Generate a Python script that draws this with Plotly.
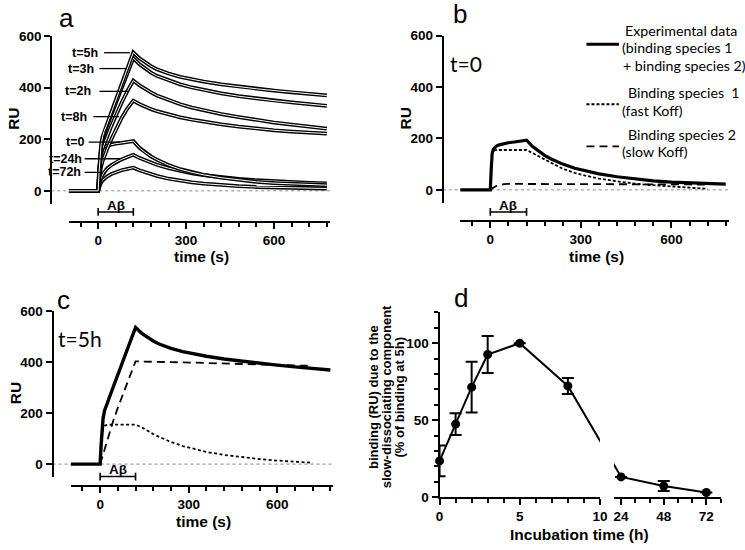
import plotly.graph_objects as go

W, H = 745, 550
def X(px): return px / W
def Y(py): return 1 - py / H

# ---------------- data ----------------
# panel a / b / c : SPR sensorgrams (time in s, response in RU)
t_full = [-100, 0, 3, 6, 10, 15, 20, 30, 45, 60, 80, 100, 120, 140, 160, 180, 200,
          240, 280, 320, 360, 420, 480, 540, 600, 660, 720, 780]
ru_5h = [0, 0, 70, 130, 180, 210, 230, 258, 305, 350, 410, 470, 537, 515, 498, 484, 472,
         455, 442, 432, 424, 413, 404, 396, 389, 382, 376, 370]
ru_3h = [0, 0, 65, 120, 170, 200, 220, 250, 295, 338, 396, 455, 515, 492, 474, 459, 446,
         428, 413, 401, 391, 378, 367, 358, 350, 343, 336, 330]
ru_2h = [0, 0, 60, 105, 140, 163, 180, 208, 252, 292, 342, 388, 428, 410, 395, 382, 370,
         352, 336, 323, 312, 298, 286, 275, 265, 257, 249, 241]
ru_8h = [0, 0, 40, 70, 95, 115, 132, 160, 200, 238, 283, 320, 350, 337, 326, 317, 309,
         296, 285, 276, 268, 258, 249, 241, 235, 230, 226, 222]
ru_0h = [0, 0, 80, 140, 158, 165, 170, 175, 180, 183, 186, 189, 193, 168, 149, 134, 121,
         100, 84, 72, 62, 51, 42, 35, 30, 27, 24, 22]
ru_24h = [0, 0, 20, 35, 50, 62, 72, 86, 100, 111, 122, 131, 140, 128, 118, 109, 101,
          88, 77, 68, 61, 53, 46, 41, 37, 34, 31, 29]
ru_72h = [0, 0, 12, 22, 32, 40, 46, 55, 65, 72, 80, 85, 90, 80, 72, 64, 58,
          47, 39, 33, 28, 22, 18, 15, 13, 11, 10, 9]
curve_labels = ["t=5h", "t=3h", "t=2h", "t=8h", "t=0", "t=24h", "t=72h"]

# fitted components (binding species 1 = fast Koff, species 2 = slow Koff)
t_comp = [0, 3, 6, 10, 15, 20, 30, 45, 60, 80, 100, 120, 140, 160, 180, 200,
          240, 280, 320, 360, 420, 480, 540, 600, 660, 720]
b_fast = [0, 80, 140, 152, 155, 155, 155, 155, 155, 155, 155, 155, 143, 130, 118, 106,
          82, 66, 54, 44, 33, 24, 18, 13, 8, 4]
b_slow = [0, 3, 6, 9, 12, 15, 19, 22, 23, 23, 23, 23, 23, 23, 23, 23,
          23, 23, 22, 22, 22, 22, 21, 21, 21, 20]
c_fast = [0, 60, 110, 140, 150, 153, 155, 155, 155, 155, 155, 155, 145, 131, 118, 107,
          87, 71, 58, 48, 36, 27, 20, 14, 9, 5]
c_slow = [0, 12, 24, 40, 60, 80, 118, 172, 222, 285, 345, 404, 403, 403, 402, 402,
          401, 400, 399, 398, 396, 394, 392, 390, 388, 386]
inj_start, inj_end = 0, 120   # A-beta injection (s)

# panel d : slow-dissociating component vs incubation time
inc_h = [0, 1, 2, 3, 5, 8, 24, 48, 72]
slow_pct = [23.6, 47.5, 71.5, 92.7, 100, 72.3, 13.2, 7.3, 3.1]
slow_err = [10, 7, 16.5, 12, None, 5.2, None, 3.2, None]

# ---------------- geometry ----------------
PANELS = {
    1: dict(x0=65.9, x1=331.1, ytop=30.0, ybot=202.25, yax=48.0, xax=221.0, br=210.7),
    2: dict(x0=463.6, x1=736.6, ytop=29.3, ybot=201.2, yax=446.0, xax=220.0, br=210.7),
    3: dict(x0=67.7, x1=334.7, ytop=313.0, ybot=483.0, yax=49.3, xax=492.7, br=482.7),
}
D1 = (442.7, 605.7); R1 = (0, 10)
D2 = (620.0, 728.3); R2 = (20, 80)
DY = (504.0, 314.0); RY = (0, 120)

BOLD = dict(family="Liberation Sans, Arial, sans-serif", color="black", weight="bold")
AX = dict(showgrid=False, zeroline=False, showline=True, linecolor="black", linewidth=2,
          ticks="outside", tickcolor="black", tickwidth=2, ticklen=6,
          tickfont=dict(size=13.5, **BOLD))

fig = go.Figure()
layout = dict(width=W, height=H, autosize=False, margin=dict(l=0, r=0, t=0, b=0),
              paper_bgcolor="white", plot_bgcolor="white", showlegend=False)
shapes, annos = [], []

for i, P in PANELS.items():
    s = "" if i == 1 else str(i)
    layout["xaxis" + s] = dict(domain=[X(P["x0"]), X(P["x1"])], range=[-100, 790],
                               anchor="free", position=Y(P["xax"]), dtick=300, tick0=0,
                               minor=dict(dtick=60, tick0=0, ticks="outside", ticklen=4,
                                          tickwidth=1.5, tickcolor="black"), **AX)
    layout["yaxis" + s] = dict(domain=[Y(P["ybot"]), Y(P["ytop"])], range=[-50, 600],
                               anchor="free", position=X(P["yax"]),
                               tickvals=[0, 200, 400, 600], **AX)
    # dotted zero baseline
    shapes.append(dict(type="line", xref="paper", yref="y" + s, x0=X(P["yax"]), x1=X(P["x1"]),
                       y0=0, y1=0, layer="below",
                       line=dict(color="#888888", width=1, dash="dot")))
    # A-beta injection bracket
    by = P["br"]
    shapes.append(dict(type="line", xref="x" + s, yref="paper", x0=inj_start, x1=inj_end,
                       y0=Y(by), y1=Y(by), line=dict(color="black", width=1.6)))
    for xe in (inj_start, inj_end):
        shapes.append(dict(type="line", xref="x" + s, yref="paper", x0=xe, x1=xe,
                           y0=Y(by - 4), y1=Y(by + 4), line=dict(color="black", width=1.6)))
    annos.append(dict(xref="x" + s, yref="paper", x=(inj_start + inj_end) / 2, y=Y(by - 7),
                      text="Aβ", showarrow=False, font=dict(size=13.5, **BOLD),
                      xanchor="center", yanchor="middle"))
    # axis titles
    annos.append(dict(xref="paper", yref="paper", x=X((P["x0"] + P["x1"]) / 2 + 2),
                      y=Y(P["xax"] + 36), text="time (s)", showarrow=False,
                      font=dict(size=15.5, **BOLD), xanchor="center", yanchor="middle"))
    annos.append(dict(xref="paper", yref="paper", x=X(P["yax"] - 38),
                      y=Y((P["ytop"] + P["ybot"]) / 2 - 1), text="RU", textangle=-90,
                      showarrow=False, font=dict(size=15.5, **BOLD),
                      xanchor="center", yanchor="middle"))

# ---- panel a traces
for ru in [ru_72h, ru_24h, ru_0h, ru_8h, ru_2h, ru_3h, ru_5h]:
    fig.add_trace(go.Scatter(x=t_full, y=ru, mode="lines", xaxis="x", yaxis="y",
                             line=dict(color="black", width=3.8), hoverinfo="skip"))
    fig.add_trace(go.Scatter(x=t_full, y=ru, mode="lines", xaxis="x", yaxis="y",
                             line=dict(color="white", width=1.0), hoverinfo="skip"))

# panel a curve labels with leader lines (pixel positions of labels)
lab_pos = [  # text right edge, line x0, line x1, y
    (98, 101.7, 128, 47), (93, 97, 125, 63.3), (90, 97, 126, 86.7), (86, 90.7, 117, 112.7),
    (83, 86, 118, 139), (81, 82, 118, 156), (80, 82, 100, 170)]
for lab, (tx, lx0, lx1, ly) in zip(curve_labels, lab_pos):
    annos.append(dict(xref="paper", yref="paper", x=X(tx), y=Y(ly), text=lab,
                      showarrow=False, font=dict(size=12.5, **BOLD),
                      xanchor="right", yanchor="middle"))
    shapes.append(dict(type="line", xref="paper", yref="paper", x0=X(lx0), x1=X(lx1),
                       y0=Y(ly), y1=Y(ly), line=dict(color="black", width=1.3)))

# ---- panel b traces
fig.add_trace(go.Scatter(x=t_comp, y=b_slow, mode="lines", xaxis="x2", yaxis="y2",
                         line=dict(color="black", width=1.8, dash="8px,5px"), hoverinfo="skip"))
fig.add_trace(go.Scatter(x=t_comp, y=b_fast, mode="lines", xaxis="x2", yaxis="y2",
                         line=dict(color="black", width=1.8, dash="3px,2px"), hoverinfo="skip"))
fig.add_trace(go.Scatter(x=t_full, y=ru_0h, mode="lines", xaxis="x2", yaxis="y2",
                         line=dict(color="black", width=3.2), hoverinfo="skip"))

# ---- panel c traces
fig.add_trace(go.Scatter(x=t_comp, y=c_slow, mode="lines", xaxis="x3", yaxis="y3",
                         line=dict(color="black", width=1.8, dash="8px,5px"), hoverinfo="skip"))
fig.add_trace(go.Scatter(x=t_comp, y=c_fast, mode="lines", xaxis="x3", yaxis="y3",
                         line=dict(color="black", width=1.8, dash="3px,2.5px"), hoverinfo="skip"))
fig.add_trace(go.Scatter(x=t_full, y=ru_5h, mode="lines", xaxis="x3", yaxis="y3",
                         line=dict(color="black", width=3.4), hoverinfo="skip"))

# ---- panel b legend
leg_font = dict(family="Lato, sans-serif", size=14.2, color="black")
for txt, ty, tx in [("Experimental data", 24, 629), ("(binding species 1", 41.7, 626),
                    ("+ binding species 2)", 60, 627), ("Binding species\u00a0 1", 87.7, 632),
                    ("(fast Koff)", 106, 626), ("Binding species 2", 131, 632),
                    ("(slow Koff)", 149, 626)]:
    annos.append(dict(xref="paper", yref="paper", x=X(tx), y=Y(ty), text=txt,
                      showarrow=False, font=leg_font, xanchor="left", yanchor="middle"))
for ky, kw, kd in [(38.3, 3, "solid"), (100, 1.8, "3px,2px"), (143.3, 1.8, "8px,5px")]:
    shapes.append(dict(type="line", xref="paper", yref="paper", x0=X(592), x1=X(625),
                       y0=Y(ky), y1=Y(ky), line=dict(color="black", width=kw, dash=kd)))

annos.append(dict(xref="paper", yref="paper", x=X(451), y=Y(58), text="t=0", showarrow=False,
                  font=dict(family="Lato, sans-serif", size=21, color="black"),
                  xanchor="left", yanchor="middle"))
annos.append(dict(xref="paper", yref="paper", x=X(53), y=Y(341), text="t=5h", showarrow=False,
                  font=dict(family="Lato, sans-serif", size=21, color="black"),
                  xanchor="left", yanchor="middle"))

# ---- panel d (broken x axis)
layout["xaxis4"] = dict(domain=[X(D1[0]), X(D1[1])], range=list(R1), anchor="y4",
                        tickvals=[0, 5, 10],
                        minor=dict(dtick=1, tick0=0, ticks="outside", ticklen=4,
                                   tickwidth=1.5, tickcolor="black"), **AX)
layout["xaxis5"] = dict(domain=[X(D2[0]), X(D2[1])], range=list(R2), anchor="y4",
                        tickvals=[24, 48, 72],
                        minor=dict(dtick=8, tick0=0, ticks="outside", ticklen=4,
                                   tickwidth=1.5, tickcolor="black"), **AX)
layout["yaxis4"] = dict(domain=[Y(DY[0]), Y(DY[1])], range=list(RY), anchor="x4",
                        tickvals=[0, 50, 100],
                        minor=dict(dtick=10, tick0=0, ticks="outside", ticklen=4,
                                   tickwidth=1.5, tickcolor="black"), **AX)

def hour_to_px(h):
    if h <= R1[1]:
        return D1[0] + (h - R1[0]) / (R1[1] - R1[0]) * (D1[1] - D1[0])
    return D2[0] + (h - R2[0]) / (R2[1] - R2[0]) * (D2[1] - D2[0])

def px_to_seg(px, D, R):
    return R[0] + (px - D[0]) / (D[1] - D[0]) * (R[1] - R[0])

seg1 = [k for k, h in enumerate(inc_h) if h <= R1[1]]
seg2 = [k for k, h in enumerate(inc_h) if h >= R2[0]]
first2, last1 = seg2[0], seg1[-1]
line1_x = [inc_h[k] for k in seg1] + [px_to_seg(hour_to_px(inc_h[first2]), D1, R1)]
line1_y = [slow_pct[k] for k in seg1] + [slow_pct[first2]]
line2_x = [px_to_seg(hour_to_px(inc_h[last1]), D2, R2)] + [inc_h[k] for k in seg2]
line2_y = [slow_pct[last1]] + [slow_pct[k] for k in seg2]

fig.add_trace(go.Scatter(x=line1_x, y=line1_y, mode="lines", xaxis="x4", yaxis="y4",
                         line=dict(color="black", width=2), hoverinfo="skip"))
fig.add_trace(go.Scatter(x=line2_x, y=line2_y, mode="lines", xaxis="x5", yaxis="y4",
                         line=dict(color="black", width=2), hoverinfo="skip"))
for idx, xa in [(seg1, "x4"), (seg2, "x5")]:
    fig.add_trace(go.Scatter(
        x=[inc_h[k] for k in idx], y=[slow_pct[k] for k in idx], mode="markers",
        xaxis=xa, yaxis="y4", cliponaxis=False, hoverinfo="skip",
        marker=dict(color="black", size=9),
        error_y=dict(type="data", array=[slow_err[k] for k in idx], visible=True,
                     color="black", thickness=2, width=6)))

annos.append(dict(xref="paper", yref="paper", x=X(585), y=Y(542), text="Incubation time (h)",
                  showarrow=False, font=dict(size=15.5, **BOLD),
                  xanchor="center", yanchor="middle"))
for txt, tx in [("binding (RU) due to the", 375), ("slow-dissociating component", 388.5),
                ("(% of binding at 5h)", 402)]:
    annos.append(dict(xref="paper", yref="paper", x=X(tx), y=Y(401), text=txt, textangle=-90,
                      showarrow=False, font=dict(size=13, **BOLD),
                      xanchor="center", yanchor="middle"))

# panel letters
for txt, lx, ly in [("a", 54, 11), ("b", 454, 7), ("c", 52, 301), ("d", 455, 299)]:
    annos.append(dict(xref="paper", yref="paper", x=X(lx), y=Y(ly), text=txt, showarrow=False,
                      font=dict(family="Liberation Sans, Arial, sans-serif", size=26,
                                color="black"),
                      xanchor="left", yanchor="middle"))

layout["shapes"] = shapes
layout["annotations"] = annos
fig.update_layout(**layout)
fig.write_html("out.html", config={"displayModeBar": False},
               post_script="document.body.style.margin='0px';document.body.style.overflow='hidden';")
